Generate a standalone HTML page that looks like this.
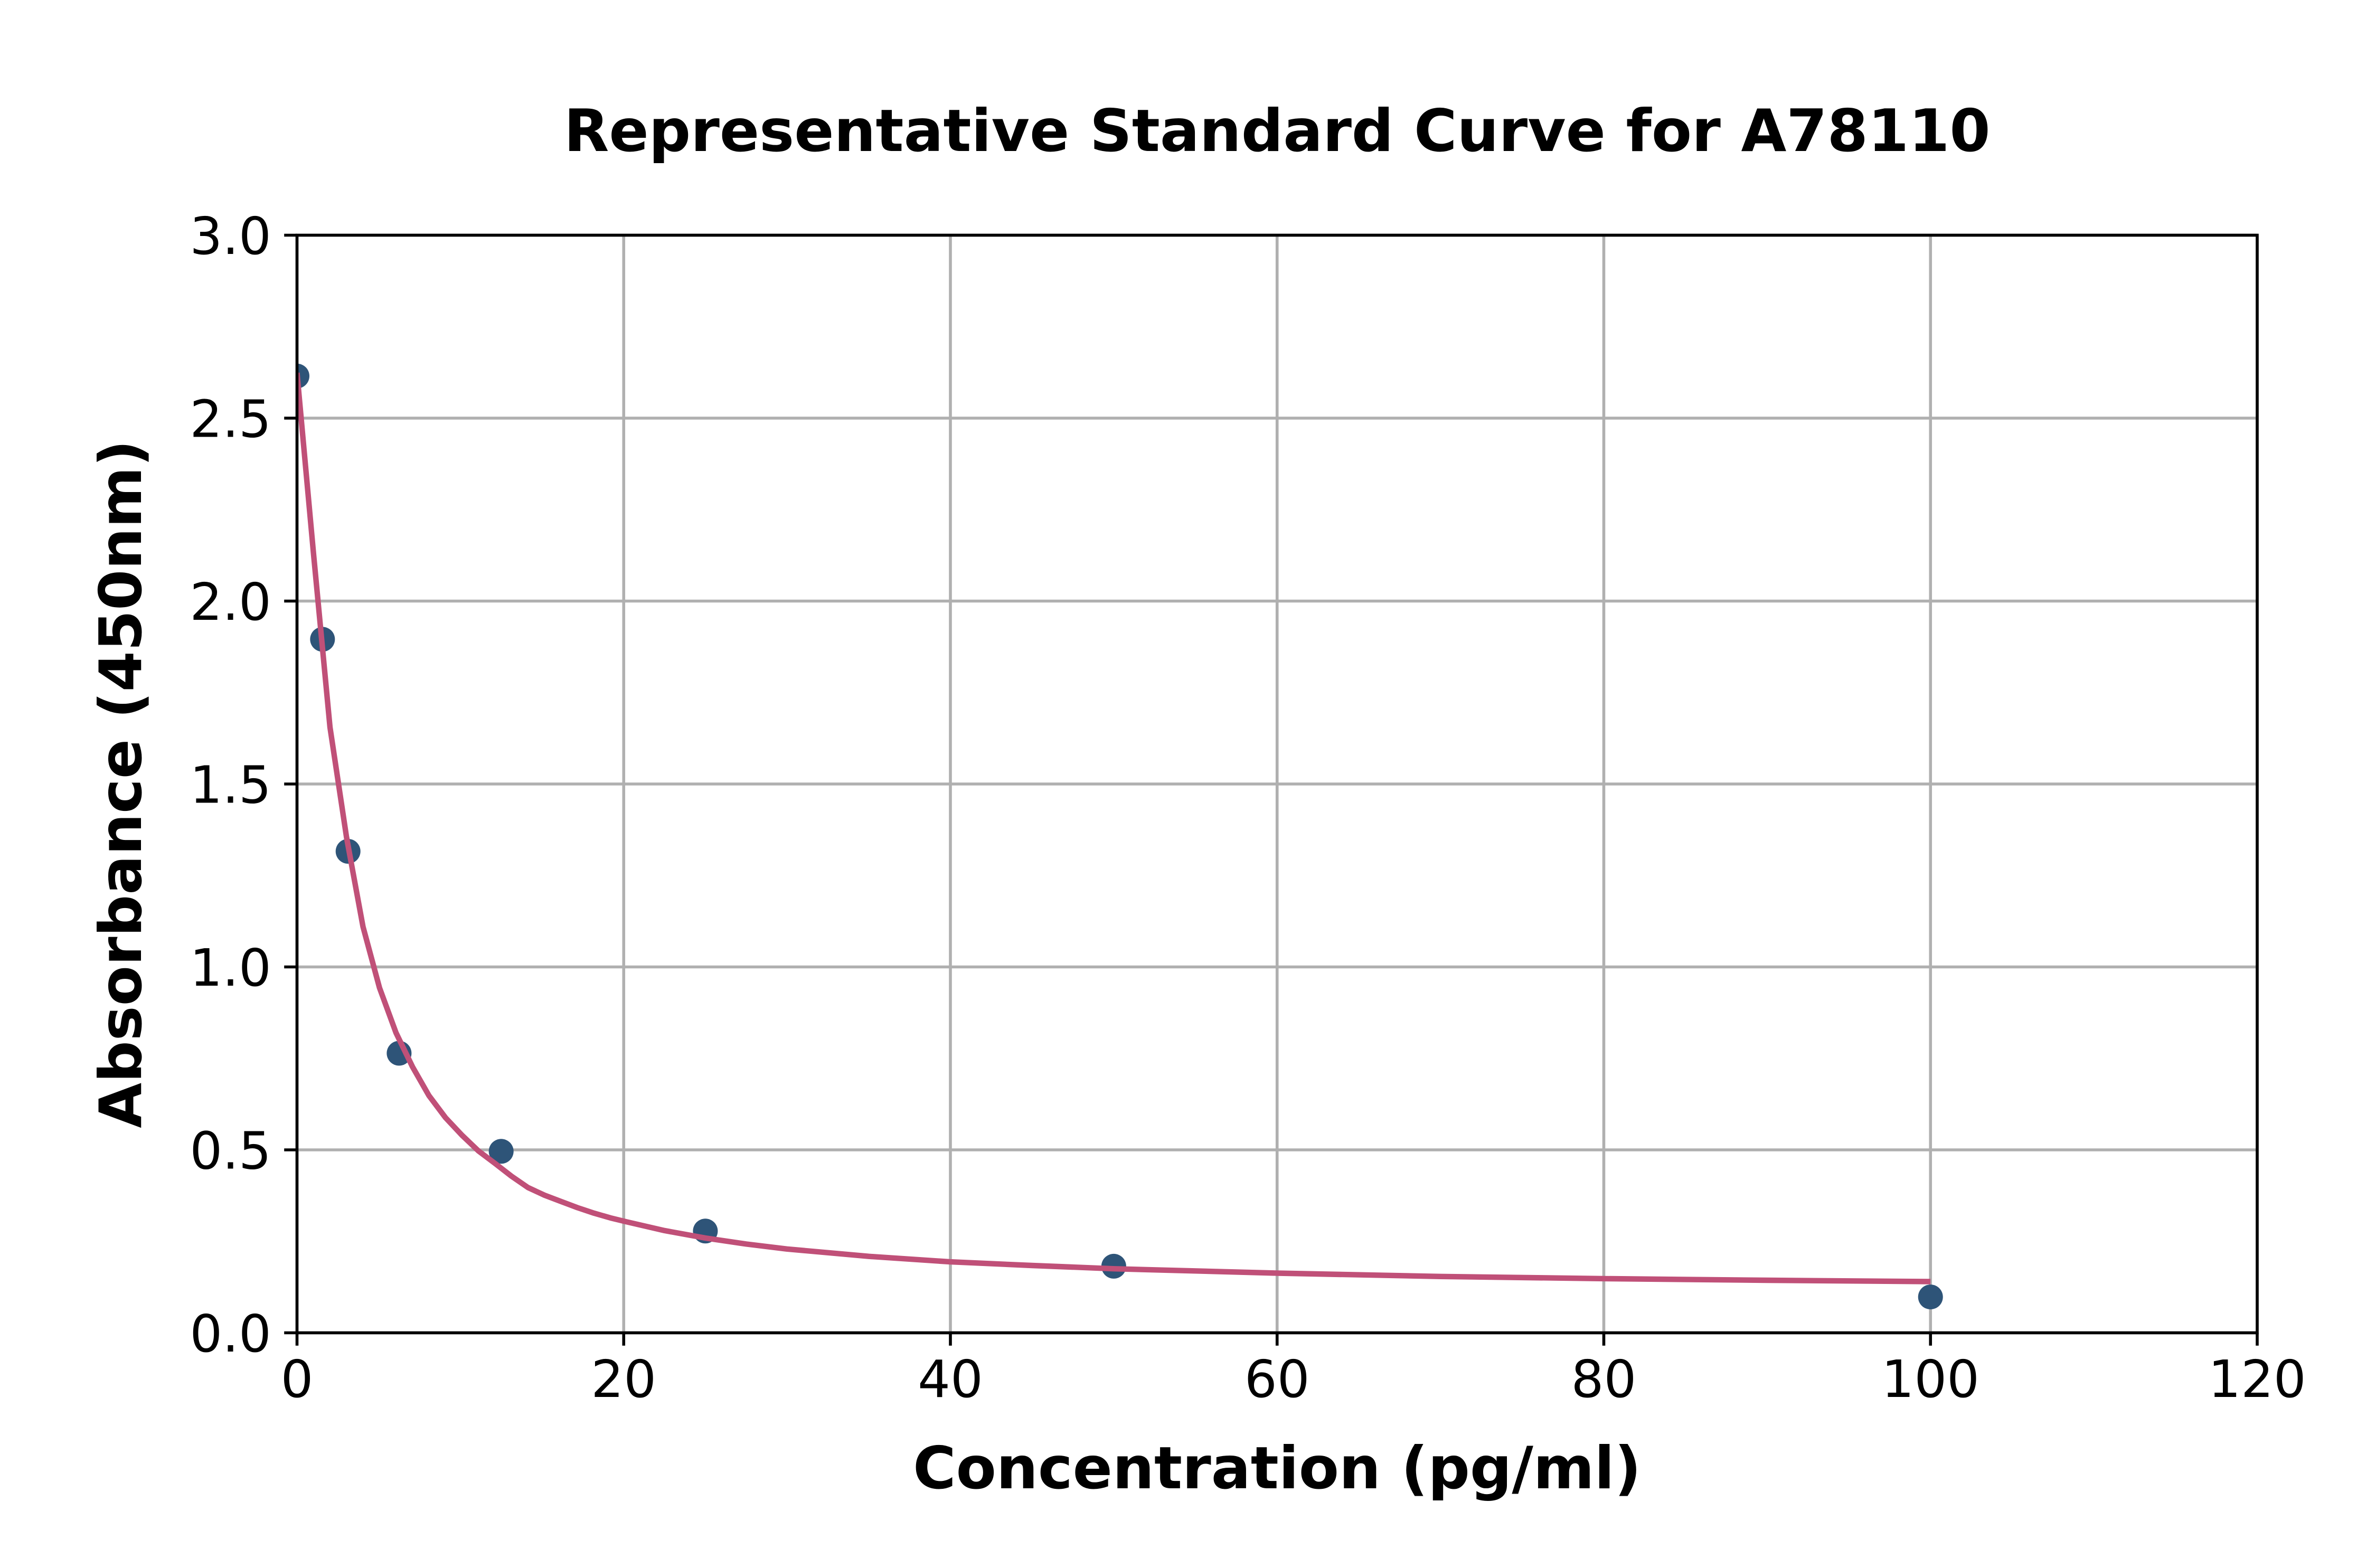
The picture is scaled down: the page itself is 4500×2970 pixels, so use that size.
<!DOCTYPE html>
<html>
<head>
<meta charset="utf-8">
<style>
  html, body { margin: 0; padding: 0; background: #ffffff; }
  body { width: 4500px; height: 2970px; overflow: hidden; }
  svg { display: block; }
  text { font-family: "DejaVu Sans", "Liberation Sans", sans-serif; fill: #000; }
</style>
</head>
<body>
<svg width="4500" height="2970" viewBox="0 0 4500 2970" xmlns="http://www.w3.org/2000/svg">
  <rect x="0" y="0" width="4500" height="2970" fill="#ffffff"/>
  <defs>
    <clipPath id="ax">
      <rect x="562.5" y="445.5" width="3712.5" height="2079"/>
    </clipPath>
  </defs>

  <!-- grid -->
  <g stroke="#b0b0b0" stroke-width="5.6" fill="none">
    <line x1="562.5" y1="445.5" x2="562.5" y2="2524.5"/>
    <line x1="1181.25" y1="445.5" x2="1181.25" y2="2524.5"/>
    <line x1="1800" y1="445.5" x2="1800" y2="2524.5"/>
    <line x1="2418.75" y1="445.5" x2="2418.75" y2="2524.5"/>
    <line x1="3037.5" y1="445.5" x2="3037.5" y2="2524.5"/>
    <line x1="3656.25" y1="445.5" x2="3656.25" y2="2524.5"/>
    <line x1="4275" y1="445.5" x2="4275" y2="2524.5"/>
    <line x1="562.5" y1="2524.5" x2="4275" y2="2524.5"/>
    <line x1="562.5" y1="2178" x2="4275" y2="2178"/>
    <line x1="562.5" y1="1831.5" x2="4275" y2="1831.5"/>
    <line x1="562.5" y1="1485" x2="4275" y2="1485"/>
    <line x1="562.5" y1="1138.5" x2="4275" y2="1138.5"/>
    <line x1="562.5" y1="792" x2="4275" y2="792"/>
    <line x1="562.5" y1="445.5" x2="4275" y2="445.5"/>
  </g>

  <g clip-path="url(#ax)">
    <!-- data points -->
    <g fill="#2e5478">
      <circle cx="562.5" cy="712.3" r="23.5"/>
      <circle cx="610.8" cy="1210.9" r="23.5"/>
      <circle cx="659.2" cy="1612.5" r="23.5"/>
      <circle cx="755.9" cy="1995.0" r="23.5"/>
      <circle cx="949.2" cy="2180.8" r="23.5"/>
      <circle cx="1335.9" cy="2331.8" r="23.5"/>
      <circle cx="2109.4" cy="2398.4" r="23.5"/>
      <circle cx="3656.25" cy="2456.6" r="23.5"/>
    </g>
    <!-- fitted curve -->
    <polyline fill="none" stroke="#c05078" stroke-width="10.4" stroke-linejoin="round" stroke-linecap="butt"
      points="562.5,706.1 593.75,1048.4 625.0,1377.6 656.25,1585.5 687.5,1755.3 718.75,1871.0 750.0,1956.2 781.25,2020.7 812.5,2075.4 843.75,2117.0 875.0,2150.3 906.25,2180.1 937.5,2203.6 968.75,2227.9 1000.0,2249.4 1031.25,2263.9 1062.5,2275.7 1093.75,2287.5 1125.0,2297.9 1156.25,2306.9 1187.5,2314.5 1258.6,2330.9 1335.9,2345.0 1413.3,2356.4 1490.6,2365.8 1645.3,2379.7 1800,2390.1 1954.7,2397.0 2109.4,2403.2 2418.75,2411.5 2728.1,2417.8 3037.5,2421.9 3346.9,2425.0 3656.25,2427.5"/>
  </g>

  <!-- spines -->
  <rect x="562.5" y="445.5" width="3712.5" height="2079" fill="none" stroke="#000" stroke-width="5.6"/>

  <!-- ticks -->
  <g stroke="#000" stroke-width="5.6">
    <line x1="562.5" y1="2524.5" x2="562.5" y2="2548.8"/>
    <line x1="1181.25" y1="2524.5" x2="1181.25" y2="2548.8"/>
    <line x1="1800" y1="2524.5" x2="1800" y2="2548.8"/>
    <line x1="2418.75" y1="2524.5" x2="2418.75" y2="2548.8"/>
    <line x1="3037.5" y1="2524.5" x2="3037.5" y2="2548.8"/>
    <line x1="3656.25" y1="2524.5" x2="3656.25" y2="2548.8"/>
    <line x1="4275" y1="2524.5" x2="4275" y2="2548.8"/>
    <line x1="538.2" y1="2524.5" x2="562.5" y2="2524.5"/>
    <line x1="538.2" y1="2178" x2="562.5" y2="2178"/>
    <line x1="538.2" y1="1831.5" x2="562.5" y2="1831.5"/>
    <line x1="538.2" y1="1485" x2="562.5" y2="1485"/>
    <line x1="538.2" y1="1138.5" x2="562.5" y2="1138.5"/>
    <line x1="538.2" y1="792" x2="562.5" y2="792"/>
    <line x1="538.2" y1="445.5" x2="562.5" y2="445.5"/>
  </g>

  <!-- x tick labels -->
  <g font-size="97.2" text-anchor="middle">
    <text x="562.5" y="2646">0</text>
    <text x="1181.25" y="2646">20</text>
    <text x="1800" y="2646">40</text>
    <text x="2418.75" y="2646">60</text>
    <text x="3037.5" y="2646">80</text>
    <text x="3656.25" y="2646">100</text>
    <text x="4275" y="2646">120</text>
  </g>

  <!-- y tick labels -->
  <g font-size="97.2" text-anchor="end">
    <text x="513.9" y="2559.9">0.0</text>
    <text x="513.9" y="2213.4">0.5</text>
    <text x="513.9" y="1866.9">1.0</text>
    <text x="513.9" y="1520.4">1.5</text>
    <text x="513.9" y="1173.9">2.0</text>
    <text x="513.9" y="827.4">2.5</text>
    <text x="513.9" y="480.9">3.0</text>
  </g>

  <!-- title -->
  <text x="2418.75" y="286" font-size="111" font-weight="bold" text-anchor="middle">Representative Standard Curve for A78110</text>

  <!-- axis labels -->
  <text x="2418.75" y="2819" font-size="111" font-weight="bold" text-anchor="middle">Concentration (pg/ml)</text>
  <text transform="translate(267,1485) rotate(-90)" font-size="111" font-weight="bold" text-anchor="middle">Absorbance (450nm)</text>
</svg>
</body>
</html>
